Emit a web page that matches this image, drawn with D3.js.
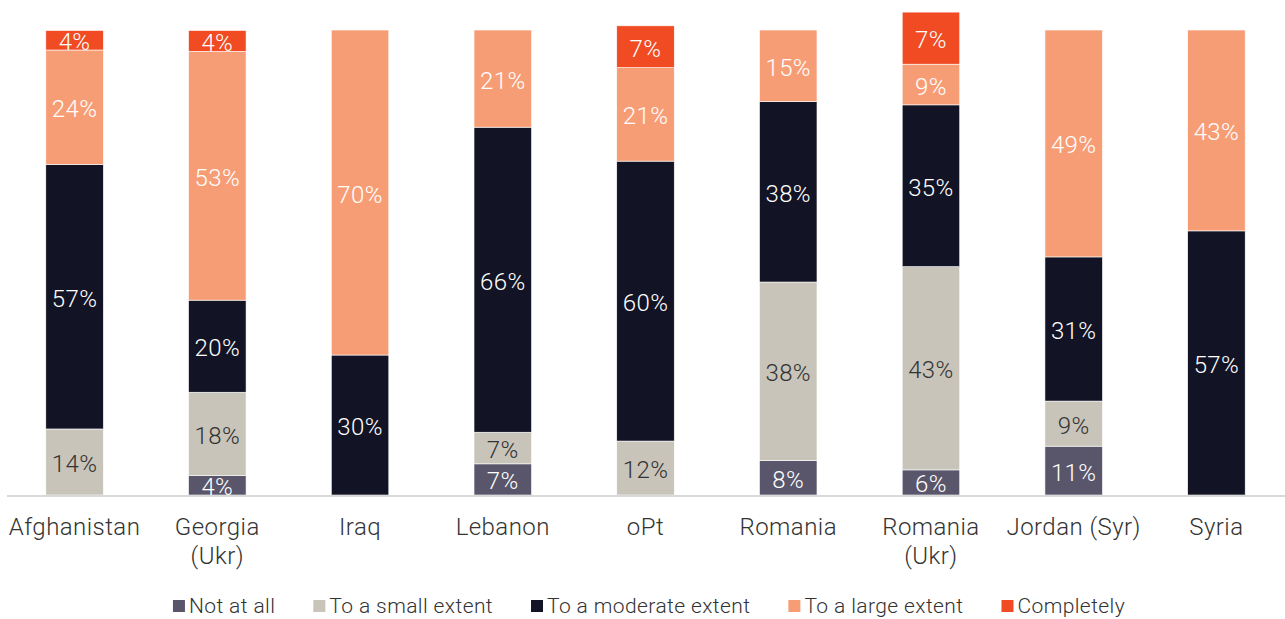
<!DOCTYPE html>
<html>
<head>
<meta charset="utf-8">
<script src="https://cdn.jsdelivr.net/npm/d3@7"></script>
<style>
  html, body { margin: 0; padding: 0; background: #ffffff; }
  svg { display: block; }
  text { font-family: Roboto, "Noto Sans", sans-serif; font-weight: 300; }
</style>
</head>
<body>
<svg id="chart" width="1285" height="619"></svg>
<script>
// Categories (line breaks marked with \n)
const categories = ["Afghanistan", "Georgia\n(Ukr)", "Iraq", "Lebanon", "oPt", "Romania", "Romania\n(Ukr)", "Jordan (Syr)", "Syria"];
const seriesNames = ["Not at all", "To a small extent", "To a moderate extent", "To a large extent", "Completely"];

// Segment sizes (percent, as drawn)
const notAtAll   = [0,    4.2,  0,    6.7,  0,    7.4,  5.4,  10.5, 0];
const smallExt   = [14.2, 17.9, 0,    6.8,  11.6, 38.4, 43.7, 9.7,  0];
const moderate   = [56.9, 19.8, 30.1, 65.6, 60.2, 38.8, 34.8, 31.0, 56.8];
const largeExt   = [24.6, 53.5, 69.9, 20.9, 20.1, 15.4, 8.75, 48.8, 43.2];
const completely = [4.2,  4.5,  0,    0,    9.0,  0,    11.2, 0,    0];

// Printed labels
const notAtAllLabels   = ["", "4%", "", "7%", "", "8%", "6%", "11%", ""];
const smallExtLabels   = ["14%", "18%", "", "7%", "12%", "38%", "43%", "9%", ""];
const moderateLabels   = ["57%", "20%", "30%", "66%", "60%", "38%", "35%", "31%", "57%"];
const largeExtLabels   = ["24%", "53%", "70%", "21%", "21%", "15%", "9%", "49%", "43%"];
const completelyLabels = ["4%", "4%", "", "", "7%", "", "7%", "", ""];

const colors     = ["#59556a", "#c8c4b9", "#121324", "#f79d76", "#f04b22"];
const textColors = ["#ffffff", "#333333", "#ffffff", "#ffffff", "#ffffff"];

const seriesValues = [notAtAll, smallExt, moderate, largeExt, completely];
const seriesLabels = [notAtAllLabels, smallExtLabels, moderateLabels, largeExtLabels, completelyLabels];

const svg = d3.select("#chart");

const x = d3.scaleBand().domain(categories).range([3, 1288]).paddingInner(0.597).paddingOuter(0.3);
const y = d3.scaleLinear().domain([0, 100]).range([495, 30]);

// build stacked rows
const rows = categories.map((c, i) => {
  const o = { cat: c };
  seriesNames.forEach((s, j) => { o[s] = seriesValues[j][i]; });
  return o;
});
const stacked = d3.stack().keys(seriesNames)(rows);

const layers = svg.append("g").selectAll("g")
  .data(stacked).join("g")
  .attr("fill", (d, j) => colors[j]);

layers.selectAll("rect")
  .data(d => d.map(p => ({ p, key: d.key })))
  .join("rect")
  .filter(d => d.p[1] - d.p[0] > 0)
  .attr("x", d => x(d.p.data.cat))
  .attr("width", x.bandwidth())
  .attr("y", d => y(d.p[1]))
  .attr("height", d => y(d.p[0]) - y(d.p[1]))
  .attr("stroke", "#ffffff")
  .attr("stroke-width", 0.6);

// baseline
svg.append("line")
  .attr("x1", 7).attr("x2", 1285)
  .attr("y1", y(0) + 1).attr("y2", y(0) + 1)
  .attr("stroke", "#d9d9d9").attr("stroke-width", 2);

// value labels
stacked.forEach((layer, j) => {
  layer.forEach((p, i) => {
    const lab = seriesLabels[j][i];
    if (!lab) return;
    svg.append("text")
      .attr("x", x(p.data.cat) + x.bandwidth() / 2)
      .attr("y", (y(p[0]) + y(p[1])) / 2 + 2)
      .attr("text-anchor", "middle")
      .attr("dominant-baseline", "central")
      .attr("fill", textColors[j])
      .attr("font-size", 24)
      .attr("letter-spacing", 0.4)
      .text(lab);
  });
});

// category labels
categories.forEach(c => {
  const t = svg.append("text")
    .attr("x", x(c) + x.bandwidth() / 2)
    .attr("y", 527)
    .attr("text-anchor", "middle")
    .attr("dominant-baseline", "central")
    .attr("fill", "#333333")
    .attr("font-size", 24)
    .attr("letter-spacing", 0.45);
  c.split("\n").forEach((line, k) => {
    t.append("tspan")
      .attr("x", x(c) + x.bandwidth() / 2)
      .attr("dy", k === 0 ? 0 : 29)
      .text(line);
  });
});

// legend
const legend = svg.append("g");
let cx = 0;
seriesNames.forEach((s, j) => {
  const g = legend.append("g").attr("transform", `translate(${cx},0)`);
  g.append("rect").attr("x", 0).attr("y", -6).attr("width", 12).attr("height", 12).attr("fill", colors[j]);
  const t = g.append("text").attr("x", 16).attr("y", 0)
    .attr("dominant-baseline", "central")
    .attr("fill", "#333333").attr("font-size", 21)
    .attr("letter-spacing", 0.4).text(s);
  cx += 16 + t.node().getComputedTextLength() + 38;
});
const totalW = cx - 38;
legend.attr("transform", `translate(${649 - totalW / 2},606)`);
</script>
</body>
</html>
